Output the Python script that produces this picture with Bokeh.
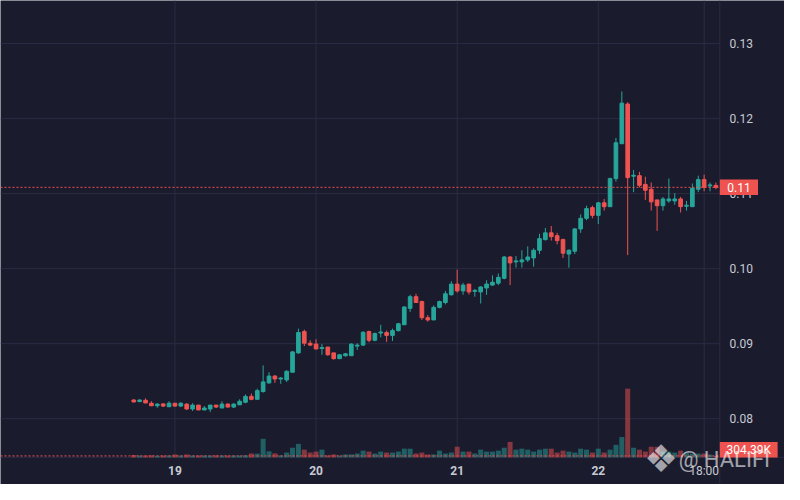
from bokeh.plotting import figure
from bokeh.models import Range1d
from bokeh.core.properties import value
from bokeh.embed import file_html
from bokeh.resources import INLINE

# ---------------- data ----------------
# hourly candles, x = hours from day 19, 00:00 (first candle: day 18, 17:00)
hours = list(range(-7, 93))

opens = [0.08249, 0.08228, 0.08245, 0.08206, 0.08172, 0.08197, 0.08159, 0.08206, 0.08168, 0.08194,
         0.08129, 0.08181, 0.08116, 0.08129, 0.08181, 0.08142, 0.08194, 0.08155, 0.08185, 0.08219,
         0.08297, 0.08258, 0.08361, 0.08477, 0.08568, 0.08529, 0.08516, 0.08619, 0.08877, 0.09161,
         0.09006, 0.08994, 0.08935, 0.08955, 0.08877, 0.08800, 0.08839, 0.08839, 0.08968, 0.08981,
         0.09161, 0.09045, 0.09142, 0.09148, 0.09110, 0.09174, 0.09252, 0.09471, 0.09626, 0.09561,
         0.09346, 0.09316, 0.09484, 0.09548, 0.09652, 0.09794, 0.09703, 0.09794, 0.09697, 0.09690,
         0.09742, 0.09781, 0.09806, 0.09871, 0.10155, 0.10090, 0.10090, 0.10116, 0.10142, 0.10245,
         0.10387, 0.10477, 0.10439, 0.10387, 0.10194, 0.10232, 0.10529, 0.10671, 0.10813, 0.10710,
         0.10877, 0.10826, 0.11200, 0.11665, 0.12194, 0.11232, 0.11239, 0.11123, 0.11058, 0.10916,
         0.10839, 0.10903, 0.10903, 0.10929, 0.10832, 0.10826, 0.11058, 0.11187, 0.11103, 0.11110]

highs = [0.08258, 0.08258, 0.08271, 0.08232, 0.08206, 0.08206, 0.08232, 0.08206, 0.08219, 0.08206,
         0.08206, 0.08181, 0.08168, 0.08181, 0.08181, 0.08232, 0.08206, 0.08206, 0.08258, 0.08323,
         0.08335, 0.08400, 0.08710, 0.08619, 0.08581, 0.08555, 0.08645, 0.08903, 0.09200, 0.09187,
         0.09045, 0.09058, 0.08994, 0.08955, 0.08877, 0.08852, 0.08877, 0.09006, 0.09006, 0.09165,
         0.09174, 0.09148, 0.09252, 0.09174, 0.09200, 0.09277, 0.09501, 0.09652, 0.09665, 0.09574,
         0.09381, 0.09510, 0.09574, 0.09703, 0.09832, 0.09987, 0.09810, 0.09794, 0.09729, 0.09768,
         0.09845, 0.09910, 0.09935, 0.10168, 0.10168, 0.10168, 0.10245, 0.10297, 0.10271, 0.10465,
         0.10542, 0.10568, 0.10477, 0.10400, 0.10258, 0.10542, 0.10723, 0.10839, 0.10839, 0.10890,
         0.10929, 0.11213, 0.11742, 0.12361, 0.12219, 0.11316, 0.11290, 0.11226, 0.11148, 0.10916,
         0.10955, 0.11200, 0.11006, 0.10955, 0.10903, 0.11135, 0.11239, 0.11252, 0.11148, 0.11148]

lows = [0.08219, 0.08219, 0.08206, 0.08168, 0.08146, 0.08155, 0.08155, 0.08161, 0.08155, 0.08116,
        0.08103, 0.08116, 0.08116, 0.08090, 0.08142, 0.08142, 0.08148, 0.08142, 0.08181, 0.08206,
        0.08245, 0.08258, 0.08348, 0.08465, 0.08477, 0.08465, 0.08490, 0.08619, 0.08865, 0.08968,
        0.08968, 0.08929, 0.08852, 0.08839, 0.08787, 0.08800, 0.08826, 0.08839, 0.08916, 0.08968,
        0.09019, 0.09032, 0.09084, 0.09023, 0.09036, 0.09161, 0.09252, 0.09423, 0.09548, 0.09316,
        0.09294, 0.09316, 0.09471, 0.09523, 0.09639, 0.09681, 0.09652, 0.09655, 0.09626, 0.09535,
        0.09652, 0.09774, 0.09781, 0.09858, 0.09781, 0.10013, 0.10013, 0.10090, 0.10026, 0.10194,
        0.10374, 0.10374, 0.10323, 0.10142, 0.10013, 0.10194, 0.10477, 0.10645, 0.10671, 0.10594,
        0.10774, 0.10826, 0.11161, 0.11665, 0.10181, 0.11019, 0.11084, 0.10916, 0.10774, 0.10503,
        0.10774, 0.10877, 0.10852, 0.10748, 0.10774, 0.10826, 0.11019, 0.11032, 0.11032, 0.11058]

closes = [0.08223, 0.08249, 0.08210, 0.08172, 0.08194, 0.08168, 0.08206, 0.08168, 0.08206, 0.08129,
          0.08181, 0.08116, 0.08142, 0.08181, 0.08155, 0.08194, 0.08155, 0.08194, 0.08232, 0.08297,
          0.08258, 0.08374, 0.08490, 0.08568, 0.08529, 0.08542, 0.08632, 0.08890, 0.09148, 0.09006,
          0.08981, 0.08929, 0.08948, 0.08852, 0.08800, 0.08852, 0.08865, 0.08994, 0.08981, 0.09152,
          0.09045, 0.09135, 0.09155, 0.09110, 0.09174, 0.09265, 0.09488, 0.09626, 0.09548, 0.09346,
          0.09316, 0.09484, 0.09561, 0.09665, 0.09794, 0.09703, 0.09781, 0.09690, 0.09710, 0.09755,
          0.09794, 0.09819, 0.09884, 0.10155, 0.10077, 0.10103, 0.10116, 0.10155, 0.10245, 0.10400,
          0.10477, 0.10426, 0.10374, 0.10206, 0.10245, 0.10529, 0.10671, 0.10800, 0.10710, 0.10877,
          0.10826, 0.11200, 0.11677, 0.12206, 0.11213, 0.11245, 0.11110, 0.11045, 0.10890, 0.10839,
          0.10929, 0.10929, 0.10929, 0.10826, 0.10845, 0.11071, 0.11187, 0.11084, 0.11116, 0.11084]

# volume in thousands
volumes_k = [500, 400, 380, 420, 360, 410, 390, 620, 380, 600,
             410, 400, 370, 390, 420, 380, 400, 370, 410, 430,
             820, 780, 3850, 1250, 820, 420, 1000, 2000, 2800, 1600,
             1000, 1200, 1600, 400, 600, 400, 600, 600, 800, 1400,
             1200, 800, 1200, 1000, 1000, 1200, 1800, 1800, 800, 1000,
             600, 600, 1400, 800, 1000, 2200, 1200, 1200, 800, 1600,
             1200, 1200, 1400, 2000, 3200, 1600, 1800, 1600, 1200, 1600,
             1800, 1800, 1000, 1400, 1200, 1000, 1800, 1600, 1000, 1800,
             1000, 1600, 2600, 4200, 14200, 2000, 1600, 1200, 2200, 2200,
             1200, 1200, 1000, 1400, 1000, 800, 800, 800, 600, 304.39]

day_ticks = [0, 24, 48, 72]
day_labels = ["19", "20", "21", "22"]
hour_ticks = [90]
hour_labels = ["18:00"]
price_ticks = [0.08, 0.09, 0.10, 0.11, 0.12, 0.13]
price_labels = ["0.08", "0.09", "0.10", "0.11", "0.12", "0.13"]
watermark = "@ HALIFI"

# ---------------- style ----------------
BG = "#1b1b2e"
GRID = "#2b2b43"
TXT = "#c8cad2"
UP = "#26a69a"
DOWN = "#ef5350"
FONT = "Roboto"

# ---------------- layout helpers (reference pixel -> data) ----------------
PX_HOUR = 6.0          # px per hour
X0_PX = 178.0          # x pixel of hour 0 (day 19)
PX_PRICE = 7750.0      # px per price unit
Y08_PX = 432.0         # y pixel of 0.08
PANE_R, PANE_B = 734.0, 472.0   # right / bottom edge of chart pane
W_PX, H_PX = 800.0, 500.0


def hx(px):
    return (px - X0_PX) / PX_HOUR


def py(px):
    return 0.08 + (Y08_PX - px) / PX_PRICE


VOL_PER_PX = 200.0

colors = [UP if c >= o else DOWN for o, c in zip(opens, closes)]
body_top = [max(o, c) for o, c in zip(opens, closes)]
body_bot = [min(o, c) for o, c in zip(opens, closes)]

p = figure(width=784, height=484, output_backend="svg", toolbar_location=None,
           x_range=Range1d(hx(0), hx(W_PX)), y_range=Range1d(py(H_PX), py(0)),
           x_axis_location=None, y_axis_location=None,
           background_fill_color=BG, border_fill_color=BG, min_border=0)
p.outline_line_color = None
p.grid.visible = False
p.extra_y_ranges = {"vol": Range1d(-(H_PX - PANE_B) * VOL_PER_PX, PANE_B * VOL_PER_PX)}

# grid lines (chart pane only)
p.segment(x0=[hx(0)] * len(price_ticks), x1=[hx(PANE_R)] * len(price_ticks),
          y0=price_ticks, y1=price_ticks, line_color=GRID, line_width=1)
vt = day_ticks + hour_ticks
p.segment(x0=vt, x1=vt, y0=[py(0)] * len(vt), y1=[py(PANE_B)] * len(vt),
          line_color=GRID, line_width=1)
# pane borders
p.segment(x0=[hx(PANE_R)], x1=[hx(PANE_R)], y0=[py(0)], y1=[py(H_PX)], line_color=GRID, line_width=1)
p.segment(x0=[hx(0)], x1=[hx(W_PX)], y0=[py(PANE_B)], y1=[py(PANE_B)], line_color=GRID, line_width=1)

# price scale labels
p.text(x=[hx(744)] * len(price_ticks), y=price_ticks, text=price_labels,
       text_align="left", text_baseline="middle", text_color=TXT,
       text_font=value(FONT), text_font_size="12px")
# time scale labels
p.text(x=day_ticks, y=[py(486)] * len(day_ticks), text=day_labels,
       text_align="center", text_baseline="middle", text_color=TXT,
       text_font=value(FONT), text_font_size="12px", text_font_style="bold")
p.text(x=hour_ticks, y=[py(486)] * len(hour_ticks), text=hour_labels,
       text_align="center", text_baseline="middle", text_color=TXT,
       text_font=value(FONT), text_font_size="12px")

# volume
p.vbar(x=hours, top=volumes_k, bottom=0, width=0.85, fill_color=colors, line_color=None,
       fill_alpha=0.5, y_range_name="vol")

# candles
p.segment(x0=hours, y0=lows, x1=hours, y1=highs, line_color=colors, line_width=1)
p.vbar(x=hours, top=body_top, bottom=body_bot, width=0.62, fill_color=colors,
       line_color=colors, line_width=1)

# last price line + label
last = closes[-1]
p.segment(x0=[hx(0)], x1=[hx(PANE_R)], y0=[last], y1=[last], line_color=DOWN,
          line_dash="2 2", line_width=1)
half_box = 8.0 / PX_PRICE
p.quad(left=[hx(PANE_R)], right=[hx(773)], bottom=[last - half_box], top=[last + half_box],
       fill_color=DOWN, line_color=None)
p.text(x=[hx(753.5)], y=[last], text=[f"{last:.2f}"], text_align="center",
       text_baseline="middle", text_color="#ffffff", text_font=value(FONT),
       text_font_size="12px")

# last volume line + label
last_v = volumes_k[-1]
p.segment(x0=[hx(0)], x1=[hx(PANE_R)], y0=[last_v], y1=[last_v], line_color=DOWN,
          line_dash="2 2", line_width=1, y_range_name="vol")
p.quad(left=[hx(PANE_R)], right=[hx(793)], bottom=[py(PANE_B)], top=[py(456)],
       fill_color=DOWN, line_color=None)
p.text(x=[hx(763.5)], y=[py(464)], text=[f"{last_v:.2f}K"], text_align="center",
       text_baseline="middle", text_color="#ffffff", text_font=value(FONT),
       text_font_size="12px")

# watermark
p.text(x=[hx(674)], y=[py(474)], text=["\u2756"], text_align="center",
       text_baseline="middle", text_color="#ffffff", text_alpha=0.6,
       text_font=value("DejaVu Sans"), text_font_size="38px")
p.text(x=[hx(692)], y=[py(474)], text=[watermark], text_align="left",
       text_baseline="middle", text_color="#ffffff", text_alpha=0.6,
       text_font=value(FONT), text_font_size="22px")

open("out.html", "w").write(file_html(p, INLINE))
